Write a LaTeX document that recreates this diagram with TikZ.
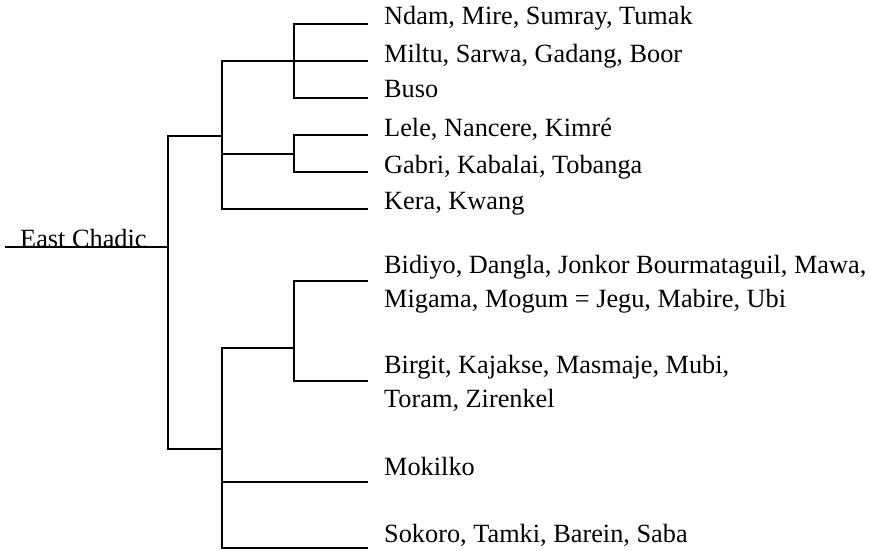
\documentclass[tikz,border=0pt]{standalone}
\usepackage{fontspec}
\setmainfont{Liberation Serif}
\usetikzlibrary{positioning}

\begin{document}
\begin{tikzpicture}[x=1pt,y=-1pt,
  branch/.style={draw,line width=1.5pt},
  lang/.style={anchor=base west,inner sep=0pt,align=left,
    font=\fontsize{26.3}{34}\selectfont}]

\useasboundingbox (0,0) rectangle (871,551);

% forks of the tree
\coordinate (start) at (5,247);
\coordinate (root) at (168,247);
\coordinate (north) at (222,136);
\coordinate (south) at (222,449);
\coordinate (ndam) at (294,61);
\coordinate (lele) at (294,154);
\coordinate (bidiyo) at (294,348);

% tips
\coordinate (t1) at (368,24);
\coordinate (t2) at (368,61);
\coordinate (t3) at (368,98);
\coordinate (t4) at (368,135);
\coordinate (t5) at (368,172);
\coordinate (t6) at (368,209);
\coordinate (t7) at (368,281);
\coordinate (t8) at (368,381);
\coordinate (t9) at (368,482);
\coordinate (t10) at (368,548);

% labels (two-line ones sit on their last line)
\node[lang] (ec) at (20,247) {East Chadic};
\node[lang] (l1) at (384,25) {Ndam, Mire, Sumray, Tumak};
\node[lang] (l2) at (384,63) {Miltu, Sarwa, Gadang, Boor};
\node[lang] (l3) at (384,98) {Buso};
\node[lang] (l4) at (384,136) {Lele, Nancere, Kimré};
\node[lang] (l5) at (384,173) {Gabri, Kabalai, Tobanga};
\node[lang] (l6) at (384,209) {Kera, Kwang};
\node[lang] (l7) at (384,307) {Bidiyo, Dangla, Jonkor Bourmataguil, Mawa,\\Migama, Mogum = Jegu, Mabire, Ubi};
\node[lang] (l8) at (384,407) {Birgit, Kajakse, Masmaje, Mubi,\\Toram, Zirenkel};
\node[lang] (l9) at (384,475) {Mokilko};
\node[lang] (l10) at (384,542) {Sokoro, Tamki, Barein, Saba};

% branches
\draw[branch] (start) -- (root);
\draw[branch] (root) |- (north);
\draw[branch] (root) |- (south);
\draw[branch] (north) |- (ndam) -- (t2);
\draw[branch] (ndam) |- (t1);
\draw[branch] (ndam) |- (t3);
\draw[branch] (north) |- (lele);
\draw[branch] (lele) |- (t4);
\draw[branch] (lele) |- (t5);
\draw[branch] (north) |- (t6);
\draw[branch] (south) |- (bidiyo);
\draw[branch] (bidiyo) |- (t7);
\draw[branch] (bidiyo) |- (t8);
\draw[branch] (south) |- (t9);
\draw[branch] (south) |- (t10);
\end{tikzpicture}
\end{document}
